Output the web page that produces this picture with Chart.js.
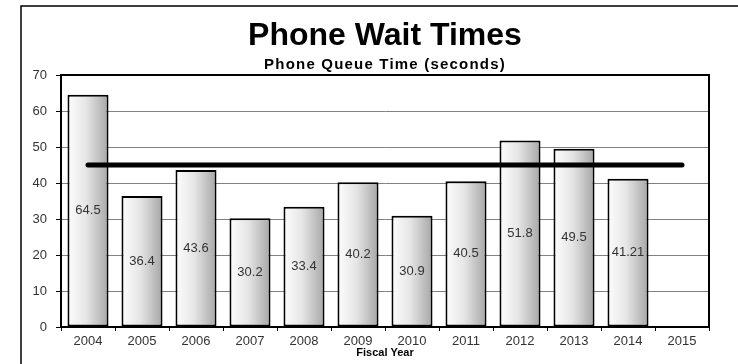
<!DOCTYPE html>
<html>
<head>
<meta charset="utf-8">
<title>Phone Wait Times</title>
<script src="https://cdn.jsdelivr.net/npm/chart.js@4/dist/chart.umd.min.js"></script>
<style>
  html, body { margin: 0; padding: 0; background: #fff; }
  canvas { display: block; }
</style>
</head>
<body>
<canvas id="waitChart" width="738" height="364"></canvas>
<script>
const fiscalYears = ['2004', '2005', '2006', '2007', '2008', '2009', '2010', '2011', '2012', '2013', '2014', '2015'];
const queueSeconds = [64.5, 36.4, 43.6, 30.2, 33.4, 40.2, 30.9, 40.5, 51.8, 49.5, 41.21, null];
const targetSeconds = [45, 45, 45, 45, 45, 45, 45, 45, 45, 45, 45, 45];
const yTicks = [0, 10, 20, 30, 40, 50, 60, 70];

const mainTitle = 'Phone Wait Times';
const subTitle = 'Phone Queue Time (seconds)';
const FONT = "'Liberation Sans', Arial, sans-serif";

// horizontal light-to-grey shading for each bar
function barFill(context) {
    const chart = context.chart;
    const x = chart.scales.x;
    if (!x || context.dataIndex === undefined) return '#d8d8d8';
    const cx = x.getPixelForValue(context.dataIndex);
    const half = (x.width / fiscalYears.length) * 0.76 / 2;
    if (!isFinite(cx) || !isFinite(half) || half <= 0) return '#d8d8d8';
    const g = chart.ctx.createLinearGradient(cx - half, 0, cx + half, 0);
    g.addColorStop(0, '#fdfdfd');
    g.addColorStop(0.45, '#e6e6e6');
    g.addColorStop(1, '#a6a6a6');
    return g;
}

const framePlugin = {
    id: 'frame',
    beforeDraw(chart) {
        const ctx = chart.ctx;
        ctx.save();
        ctx.strokeStyle = '#000';
        ctx.lineWidth = 1.5;
        ctx.beginPath();
        ctx.moveTo(21, chart.height);
        ctx.lineTo(21, 6);
        ctx.lineTo(chart.width, 6);
        ctx.stroke();
        ctx.restore();
    },
    afterDraw(chart) {
        const ctx = chart.ctx;
        const a = chart.chartArea;
        ctx.save();
        // top and right edge of the plot box
        ctx.strokeStyle = '#000';
        ctx.lineWidth = 2;
        ctx.beginPath();
        ctx.moveTo(a.left, a.top);
        ctx.lineTo(a.right, a.top);
        ctx.lineTo(a.right, a.bottom);
        ctx.stroke();

        const cx = (a.left + a.right) / 2;
        ctx.fillStyle = '#000';
        ctx.textAlign = 'center';
        ctx.textBaseline = 'alphabetic';
        ctx.font = 'bold 32px ' + FONT;
        ctx.fillText(mainTitle, cx, 45);
        ctx.font = 'bold 15px ' + FONT;
        ctx.letterSpacing = '1.2px';
        ctx.fillText(subTitle, cx, 69);
        ctx.restore();
    }
};

// value written in the middle of each bar
const barLabels = {
    id: 'barLabels',
    afterDatasetsDraw(chart) {
        const ctx = chart.ctx;
        const meta = chart.getDatasetMeta(0);
        ctx.save();
        ctx.fillStyle = '#333';
        ctx.font = '13px ' + FONT;
        ctx.textAlign = 'center';
        ctx.textBaseline = 'middle';
        meta.data.forEach((bar, i) => {
            const v = queueSeconds[i];
            if (v === null) return;
            const p = bar.getCenterPoint();
            ctx.fillText(String(v), p.x, p.y);
        });
        ctx.restore();
    }
};

new Chart(document.getElementById('waitChart'), {
    type: 'bar',
    data: {
        labels: fiscalYears,
        datasets: [{
            type: 'bar',
            data: queueSeconds,
            backgroundColor: barFill,
            borderColor: '#000',
            borderWidth: 2,
            borderSkipped: false,
            categoryPercentage: 1,
            barPercentage: 0.76,
            order: 2
        }, {
            type: 'line',
            data: targetSeconds,
            borderColor: '#000',
            borderWidth: 5,
            borderCapStyle: 'round',
            pointRadius: 0,
            fill: false,
            order: 1
        }]
    },
    options: {
        responsive: false,
        animation: false,
        layout: { padding: { top: 75, left: 21, right: 29, bottom: 0 } },
        plugins: {
            legend: { display: false },
            tooltip: { enabled: false }
        },
        scales: {
            x: {
                grid: { offset: true, drawOnChartArea: false, tickLength: 4, tickColor: '#000' },
                border: { color: '#000', width: 2 },
                ticks: { color: '#333', font: { family: FONT, size: 13 }, padding: 3, maxRotation: 0 },
                title: {
                    display: true,
                    text: 'Fiscal Year',
                    color: '#000',
                    font: { family: FONT, size: 11, weight: 'bold' },
                    padding: { top: 0, bottom: 4 }
                },
                afterFit(scale) { scale.height = 37; }
            },
            y: {
                min: 0,
                max: 70,
                afterBuildTicks(scale) { scale.ticks = yTicks.map(v => ({ value: v })); },
                grid: { color: '#808080', lineWidth: 1, tickLength: 5, tickColor: '#000' },
                border: { color: '#000', width: 2 },
                ticks: { color: '#333', font: { family: FONT, size: 13 }, padding: 9 },
                afterFit(scale) { scale.width = 40; }
            }
        }
    },
    plugins: [framePlugin, barLabels]
});
</script>
</body>
</html>
